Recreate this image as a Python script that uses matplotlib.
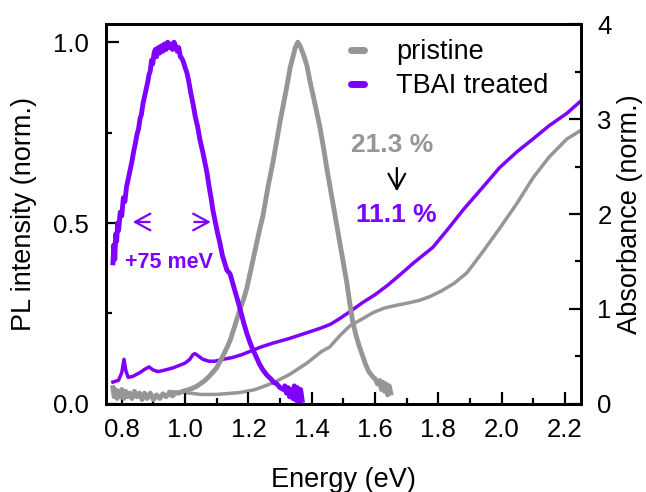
import numpy as np
import matplotlib.pyplot as plt
from matplotlib.lines import Line2D

plt.rcParams['font.family'] = ['Liberation Sans', 'DejaVu Sans']

# colours
grey = '#969696'
purple = '#7f00ff'

# PL, TBAI treated (left axis)
pl_tbai_e = [0.772, 0.775, 0.778, 0.781, 0.784, 0.787, 0.790, 0.795, 0.800, 0.805,
             0.810, 0.815, 0.820, 0.826, 0.832, 0.838, 0.843, 0.848, 0.853, 0.858,
             0.862, 0.867, 0.872, 0.877, 0.882, 0.886, 0.890, 0.894, 0.898, 0.902,
             0.906, 0.910, 0.915, 0.920, 0.925, 0.930, 0.935, 0.940, 0.945, 0.950,
             0.955, 0.960, 0.965, 0.970, 0.975, 0.980, 0.985, 0.990, 0.995, 1.000,
             1.006, 1.012, 1.018, 1.025, 1.032, 1.040, 1.047, 1.055, 1.062, 1.069,
             1.076, 1.082, 1.088, 1.095, 1.102, 1.110, 1.118, 1.125, 1.132, 1.142,
             1.155, 1.165, 1.173, 1.185, 1.195, 1.205, 1.214, 1.225, 1.235, 1.246,
             1.258, 1.270, 1.280, 1.290, 1.300, 1.310, 1.315, 1.320, 1.325, 1.330,
             1.335, 1.340, 1.345, 1.350, 1.355, 1.360, 1.365, 1.370]
pl_tbai = [0.39, 0.44, 0.40, 0.47, 0.45, 0.50, 0.48, 0.53, 0.52, 0.57,
           0.56, 0.60, 0.62, 0.645, 0.67, 0.70, 0.72, 0.745, 0.76, 0.79,
           0.80, 0.83, 0.85, 0.87, 0.89, 0.91, 0.92, 0.95, 0.94, 0.97,
           0.98, 0.96, 0.985, 0.97, 0.99, 0.975, 0.995, 0.98, 1.0, 0.985,
           0.995, 0.98, 1.0, 0.99, 0.975, 0.985, 0.96, 0.955, 0.945, 0.93,
           0.915, 0.89, 0.86, 0.83, 0.795, 0.765, 0.73, 0.70, 0.67, 0.64,
           0.60, 0.57, 0.535, 0.505, 0.475, 0.445, 0.41, 0.39, 0.37, 0.36,
           0.32, 0.29, 0.265, 0.225, 0.195, 0.17, 0.15, 0.13, 0.11, 0.094,
           0.08, 0.07, 0.06, 0.055, 0.045, 0.04, 0.05, 0.03, 0.045, 0.02,
           0.04, 0.015, 0.05, 0.01, 0.045, 0.005, 0.04, 0.01]

# PL, pristine (left axis)
pl_pris_e = [0.772, 0.776, 0.780, 0.785, 0.790, 0.795, 0.800, 0.806, 0.812, 0.818,
             0.825, 0.832, 0.840, 0.848, 0.856, 0.864, 0.872, 0.880, 0.890, 0.900,
             0.910, 0.920, 0.930, 0.940, 0.950, 0.960, 0.970, 0.980, 0.993, 1.005,
             1.020, 1.035, 1.047, 1.060, 1.075, 1.088, 1.100, 1.115, 1.132, 1.142,
             1.155, 1.173, 1.185, 1.195, 1.210, 1.225, 1.235, 1.246, 1.262, 1.278,
             1.290, 1.300, 1.311, 1.322, 1.332, 1.341, 1.348, 1.356, 1.363, 1.370,
             1.378, 1.385, 1.395, 1.404, 1.415, 1.426, 1.437, 1.448, 1.458, 1.467,
             1.478, 1.489, 1.500, 1.511, 1.520, 1.530, 1.540, 1.550, 1.562, 1.570,
             1.580, 1.593, 1.600, 1.608, 1.615, 1.620, 1.625, 1.630, 1.635, 1.640,
             1.645, 1.650]
pl_pris = [0.045, 0.02, 0.04, 0.015, 0.035, 0.02, 0.04, 0.015, 0.035, 0.02,
           0.03, 0.015, 0.035, 0.02, 0.03, 0.012, 0.03, 0.015, 0.03, 0.012,
           0.025, 0.015, 0.028, 0.02, 0.03, 0.022, 0.03, 0.03, 0.035, 0.038,
           0.042, 0.048, 0.055, 0.063, 0.075, 0.088, 0.10, 0.125, 0.155, 0.175,
           0.21, 0.26, 0.29, 0.32, 0.38, 0.44, 0.48, 0.52, 0.60, 0.67,
           0.73, 0.78, 0.83, 0.88, 0.93, 0.96, 0.985, 1.0, 0.99, 0.975,
           0.955, 0.935, 0.89, 0.855, 0.81, 0.765, 0.71, 0.65, 0.60, 0.555,
           0.50, 0.445, 0.39, 0.335, 0.28, 0.225, 0.19, 0.16, 0.13, 0.11,
           0.09, 0.075, 0.07, 0.055, 0.065, 0.04, 0.06, 0.035, 0.055, 0.025,
           0.05, 0.03]

# absorbance, TBAI treated (right axis)
abs_tbai_e = [0.772, 0.790, 0.800, 0.807, 0.813, 0.820, 0.835, 0.857, 0.875, 0.886,
              0.898, 0.914, 0.940, 0.962, 0.985, 1.000, 1.015, 1.025, 1.031, 1.040,
              1.056, 1.075, 1.094, 1.120, 1.151, 1.180, 1.210, 1.240, 1.277, 1.330,
              1.385, 1.430, 1.460, 1.489, 1.520, 1.562, 1.600, 1.640, 1.679, 1.720,
              1.783, 1.830, 1.880, 1.940, 1.994, 2.050, 2.099, 2.150, 2.206, 2.250]
abs_tbai = [0.23, 0.25, 0.33, 0.47, 0.35, 0.28, 0.29, 0.33, 0.37, 0.39,
            0.36, 0.34, 0.36, 0.38, 0.41, 0.43, 0.47, 0.52, 0.53, 0.51,
            0.47, 0.45, 0.45, 0.47, 0.49, 0.52, 0.56, 0.60, 0.64, 0.69,
            0.75, 0.80, 0.84, 0.90, 0.97, 1.07, 1.15, 1.25, 1.36, 1.48,
            1.65, 1.84, 2.05, 2.28, 2.49, 2.66, 2.79, 2.93, 3.06, 3.19]

# absorbance, pristine (right axis)
abs_pris_e = [0.95, 1.00, 1.05, 1.10, 1.173, 1.22, 1.277, 1.33, 1.385, 1.43,
              1.457, 1.489, 1.52, 1.562, 1.593, 1.63, 1.669, 1.70, 1.74, 1.773,
              1.81, 1.85, 1.89, 1.94, 1.994, 2.05, 2.099, 2.15, 2.206, 2.25]
abs_pris = [0.13, 0.12, 0.10, 0.10, 0.12, 0.15, 0.22, 0.31, 0.43, 0.55,
            0.60, 0.72, 0.82, 0.90, 0.96, 1.01, 1.04, 1.06, 1.09, 1.13,
            1.19, 1.27, 1.38, 1.60, 1.85, 2.12, 2.38, 2.60, 2.79, 2.88]

fig = plt.figure(figsize=(6.46, 4.92), dpi=100)
ax = fig.add_axes([0.164, 0.179, 0.735, 0.772])
ax2 = ax.twinx()

ax2.plot(abs_pris_e, abs_pris, color=grey, lw=2.5)
ax2.plot(abs_tbai_e, abs_tbai, color=purple, lw=2.5)
ax.plot(pl_pris_e, pl_pris, color=grey, lw=3.5)
ax.plot(pl_tbai_e, pl_tbai, color=purple, lw=3.5)

# PL curves on top of absorbance
ax.set_zorder(ax2.get_zorder() + 1)
ax.patch.set_visible(False)

ax.set_xlim(0.75, 2.25)
ax.set_ylim(0, 1.05)
ax2.set_ylim(0, 4)

ax.set_xticks(np.arange(0.8, 2.21, 0.2))
ax.set_xticks(np.arange(0.8, 2.25, 0.1), minor=True)
ax.set_yticks([0, 0.5, 1.0])
ax.set_yticks([0.25, 0.75], minor=True)
ax2.set_yticks([0, 1, 2, 3, 4])
ax2.set_yticks([0.5, 1.5, 2.5, 3.5], minor=True)
ax.xaxis.set_major_formatter(plt.FormatStrFormatter('%.1f'))
ax.yaxis.set_major_formatter(plt.FormatStrFormatter('%.1f'))

for a in (ax, ax2):
    for s in a.spines.values():
        s.set_linewidth(2)
ax.tick_params(which='both', direction='in', width=1.6, labelsize=18.5, top=False, right=False)
ax.tick_params(which='major', length=9)
ax.tick_params(which='minor', length=4.5)
ax.tick_params(axis='x', pad=10)
ax.tick_params(axis='y', pad=12)
ax2.tick_params(which='both', direction='in', width=1.6, labelsize=18.5, pad=12)
ax2.tick_params(which='major', length=9)
ax2.tick_params(which='minor', length=4.5)

ax.set_xlabel('Energy (eV)', fontsize=19.5)
ax.set_ylabel('PL intensity (norm.)', fontsize=19.5)
ax2.set_ylabel('Absorbance (norm.)', fontsize=19.5)
ax.xaxis.set_label_coords(0.5, -0.165)
ax.yaxis.set_label_coords(-0.145, 0.5)
ax2.yaxis.set_label_coords(1.076, 0.5)

# annotations
arrow_style = '->,head_length=0.55,head_width=0.3'
ax.text(1.653, 0.715, '21.3 %', color=grey, fontsize=19, fontweight='bold', ha='center', va='center')
ax.annotate('', xy=(1.669, 0.58), xytext=(1.669, 0.66),
            arrowprops=dict(arrowstyle=arrow_style, color='black', lw=1.6, mutation_scale=20))
ax.text(1.666, 0.522, '11.1 %', color=purple, fontsize=19, fontweight='bold', ha='center', va='center')
ax.text(0.949, 0.392, '+75 meV', color=purple, fontsize=15.5, fontweight='bold', ha='center', va='center')
ax.annotate('', xy=(0.826, 0.503), xytext=(0.897, 0.503),
            arrowprops=dict(arrowstyle=arrow_style, color=purple, lw=1.6, mutation_scale=20))
ax.annotate('', xy=(1.090, 0.503), xytext=(1.020, 0.503),
            arrowprops=dict(arrowstyle=arrow_style, color=purple, lw=1.6, mutation_scale=20))

handles = [Line2D([], [], color=grey, lw=5, solid_capstyle='round'),
           Line2D([], [], color=purple, lw=5, solid_capstyle='round')]
ax.legend(handles, ['pristine', 'TBAI treated'], loc='upper left',
          bbox_to_anchor=(0.517, 0.96), frameon=False, fontsize=19.5,
          handlelength=0.45, handletextpad=1.2, labelspacing=0.3,
          borderpad=0, borderaxespad=0)

fig.savefig('out.png', dpi=100)
